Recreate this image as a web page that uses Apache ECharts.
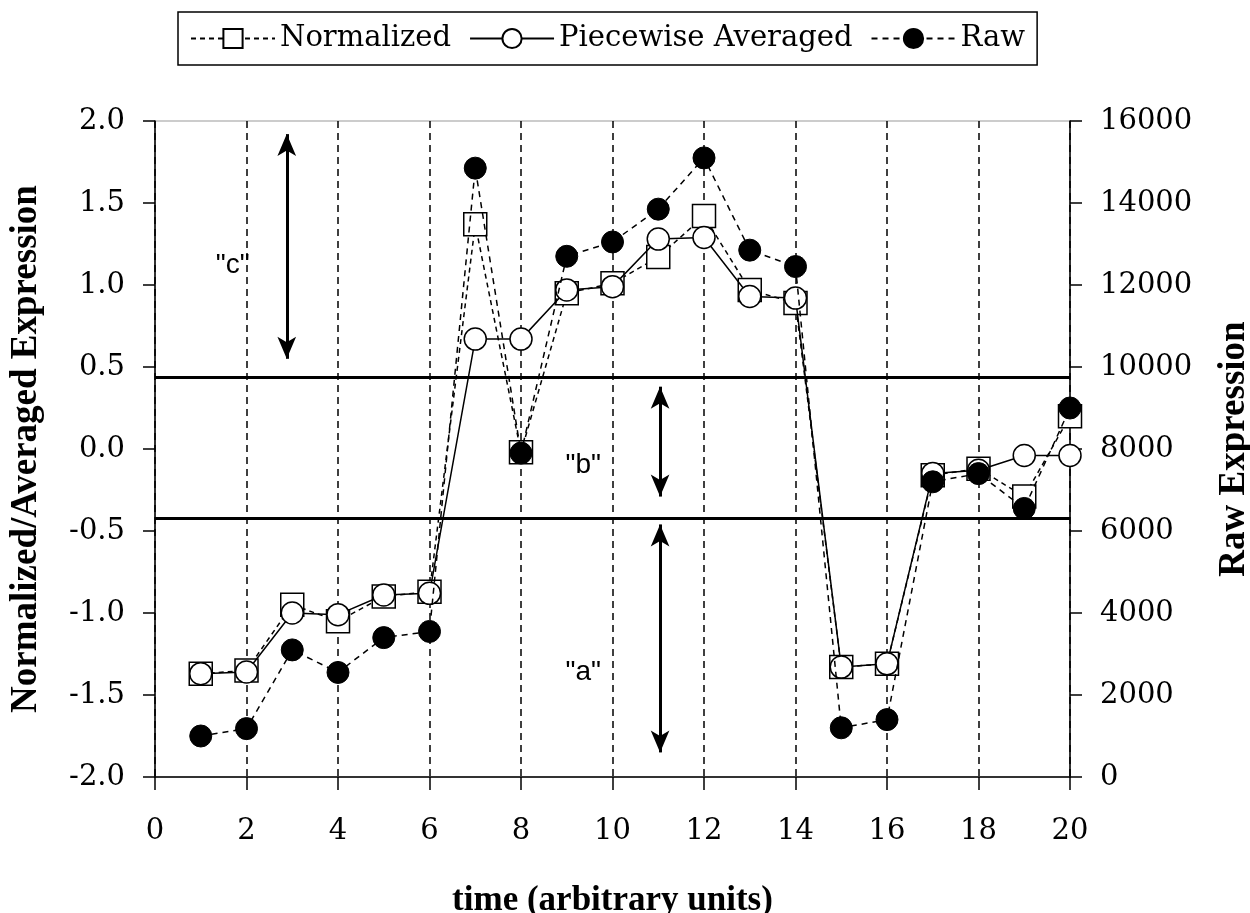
<!DOCTYPE html>
<html>
<head>
<meta charset="utf-8">
<script src="https://cdn.jsdelivr.net/npm/echarts@6/dist/echarts.min.js"></script>
<style>
  html, body { margin: 0; padding: 0; background: #fff; }
  #chart { width: 1250px; height: 913px; }
</style>
</head>
<body>
<div id="chart"></div>
<script>
// time points
var timePoints = [1, 2, 3, 4, 5, 6, 7, 8, 9, 10, 11, 12, 13, 14, 15, 16, 17, 18, 19, 20];

// left axis values
var normalized = [-1.37, -1.35, -0.95, -1.05, -0.90, -0.87, 1.37, -0.02, 0.95, 1.01,
                  1.17, 1.42, 0.97, 0.89, -1.33, -1.31, -0.16, -0.12, -0.29, 0.20];
var piecewiseAveraged = [-1.37, -1.36, -1.00, -1.01, -0.89, -0.88, 0.67, 0.67, 0.97, 0.99,
                         1.28, 1.29, 0.93, 0.92, -1.33, -1.31, -0.15, -0.13, -0.04, -0.04];

// right axis values
var raw = [1000, 1180, 3100, 2550, 3400, 3550, 14850, 7900, 12700, 13050,
           13850, 15100, 12850, 12450, 1200, 1400, 7200, 7400, 6550, 9000];

// class boundaries and annotation arrows
var boundaries = [0.44, -0.42];
var arrows = [
  { x: 2.88, from: 1.92, to: 0.55 },
  { x: 11.04, from: 0.38, to: -0.29 },
  { x: 11.04, from: -0.46, to: -1.85 }
];
var regionLabels = [
  { name: '"c"', x: 1.7, y: 1.12 },
  { name: '"b"', x: 9.36, y: -0.10 },
  { name: '"a"', x: 9.36, y: -1.36 }
];

function pairs(ys) {
  var out = [];
  for (var i = 0; i < timePoints.length; i++) {
    out.push([timePoints[i], ys[i]]);
  }
  return out;
}

var serif = '"Liberation Serif", "DejaVu Serif", serif';
var wideSerif = '"DejaVu Serif", "Liberation Serif", serif';

var chart = echarts.init(document.getElementById('chart'));

var option = {
  animation: false,
  backgroundColor: '#fff',
  textStyle: { fontFamily: wideSerif, color: '#000' },
  legend: {
    top: 12,
    left: 178,
    data: ['Normalized', 'Piecewise Averaged', 'Raw'],
    borderColor: '#000',
    borderWidth: 1.5,
    padding: [12, 12],
    itemGap: 18,
    itemWidth: 84,
    itemHeight: 24,
    textStyle: { fontFamily: wideSerif, fontSize: 29, color: '#000' }
  },
  grid: {
    left: 155,
    right: 180,
    top: 121,
    bottom: 136,
    outerBoundsMode: 'none',
    containLabel: false,
    show: true,
    borderColor: '#999',
    borderWidth: 1
  },
  xAxis: {
    type: 'value',
    min: 0,
    max: 20,
    interval: 2,
    name: 'time (arbitrary units)',
    nameLocation: 'middle',
    nameGap: 106,
    nameTextStyle: { fontFamily: serif, fontSize: 35, fontWeight: 'bold', color: '#000' },
    axisLine: { onZero: false, lineStyle: { color: '#000', width: 1.5 } },
    axisTick: { show: true, length: 13, lineStyle: { color: '#000', width: 1.5 } },
    axisLabel: { fontFamily: wideSerif, fontSize: 29, color: '#000', margin: 40 },
    splitLine: { show: true, lineStyle: { color: '#000', type: [7, 5], width: 1.5 } }
  },
  yAxis: [
    {
      type: 'value',
      min: -2,
      max: 2,
      interval: 0.5,
      name: 'Normalized/Averaged Expression',
      nameLocation: 'middle',
      nameGap: 110,
      nameTextStyle: { fontFamily: serif, fontSize: 37, fontWeight: 'bold', color: '#000' },
      axisLine: { show: true, lineStyle: { color: '#000', width: 1.5 } },
      axisTick: { show: true, length: 12, lineStyle: { color: '#000', width: 1.5 } },
      axisLabel: {
        fontFamily: wideSerif, fontSize: 29, color: '#000', margin: 30,
        formatter: function (v) { return v.toFixed(1); }
      },
      splitLine: { show: false }
    },
    {
      type: 'value',
      min: 0,
      max: 16000,
      interval: 2000,
      position: 'right',
      name: 'Raw Expression',
      nameLocation: 'middle',
      nameGap: 146,
      nameRotate: 90,
      nameTextStyle: { fontFamily: serif, fontSize: 37, fontWeight: 'bold', color: '#000' },
      axisLine: { show: true, lineStyle: { color: '#000', width: 1.5 } },
      axisTick: { show: true, length: 12, lineStyle: { color: '#000', width: 1.5 } },
      axisLabel: {
        fontFamily: wideSerif, fontSize: 29, color: '#000', margin: 30,
        formatter: function (v) { return String(v); }
      },
      splitLine: { show: false }
    }
  ],
  series: [
    {
      name: 'Normalized',
      type: 'line',
      yAxisIndex: 0,
      data: pairs(normalized),
      symbol: 'rect',
      symbolSize: 23,
      itemStyle: { color: '#fff', borderColor: '#000', borderWidth: 1.5 },
      lineStyle: { color: '#000', width: 1.5, type: [5, 4] },
      z: 3,
      markLine: {
        silent: true,
        symbol: ['none', 'none'],
        label: { show: false },
        lineStyle: { color: '#000', width: 3, type: 'solid' },
        data: boundaries.map(function (b) { return { yAxis: b }; })
      }
    },
    {
      name: 'Piecewise Averaged',
      type: 'line',
      yAxisIndex: 0,
      data: pairs(piecewiseAveraged),
      symbol: 'circle',
      symbolSize: 22,
      itemStyle: { color: '#fff', borderColor: '#000', borderWidth: 1.5 },
      lineStyle: { color: '#000', width: 1.5, type: 'solid' },
      z: 4,
      markLine: {
        silent: true,
        symbol: ['arrow', 'arrow'],
        symbolSize: [14, 22],
        label: { show: false },
        lineStyle: { color: '#000', width: 3, type: 'solid' },
        data: arrows.map(function (a) {
          return [{ coord: [a.x, a.from] }, { coord: [a.x, a.to] }];
        })
      },
      markPoint: {
        silent: true,
        symbol: 'circle',
        symbolSize: 1,
        itemStyle: { color: 'rgba(0,0,0,0)' },
        label: {
          show: true,
          position: 'inside',
          fontFamily: '"Liberation Sans", Arial, sans-serif',
          fontSize: 28,
          color: '#000',
          formatter: function (p) { return p.name; }
        },
        data: regionLabels.map(function (r) {
          return { name: r.name, coord: [r.x, r.y] };
        })
      }
    },
    {
      name: 'Raw',
      type: 'line',
      yAxisIndex: 1,
      data: pairs(raw),
      symbol: 'circle',
      symbolSize: 22,
      itemStyle: { color: '#000', borderColor: '#000', borderWidth: 1 },
      lineStyle: { color: '#000', width: 1.5, type: [6, 5] },
      z: 5
    }
  ]
};

chart.setOption(option);
</script>
</body>
</html>
